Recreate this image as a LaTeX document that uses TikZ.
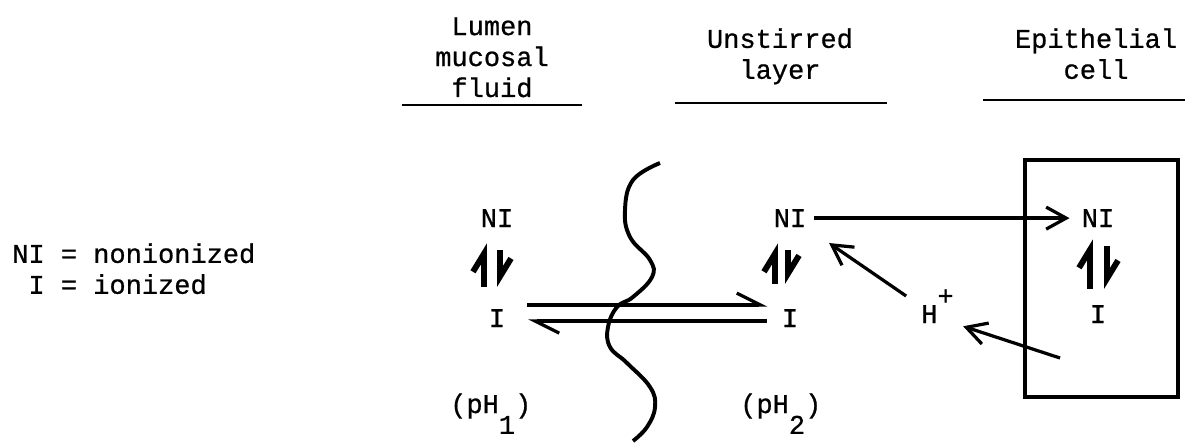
\documentclass[tikz,border=0pt]{standalone}
\usepackage{fontspec}
\newfontfamily\typer[FakeBold=0.7]{Liberation Mono}
\usetikzlibrary{arrows.meta,positioning}
\tikzstyle{lbl}=[inner sep=0pt,font=\typer\fontsize{19.2}{22}\selectfont]
\tikzstyle{head}=[lbl,align=center,anchor=north]
\tikzstyle{uline}=[line width=1.8pt]
\tikzstyle{arr}=[-{Straight Barb[length=0.5cm,width=0.55cm]},line width=2.3pt]
\tikzstyle{harp}=[-{Straight Barb[harpoon,length=0.6cm,width=0.6cm]},line width=2.3pt]
\tikzstyle{eq}=[-{Straight Barb[harpoon,length=0.45cm,width=0.55cm]},line width=4.2pt]
\tikzstyle{wall}=[line width=2.8pt]

\begin{document}
\begin{tikzpicture}[x=0.025cm,y=-0.025cm]
\useasboundingbox (0,0) rectangle (1185,443);
% headings
\node[head] (hLumen) at (492,17) {Lumen\\mucosal\\fluid};
\node[head] (hLayer) at (780,28) {Unstirred\\layer};
\node[head] (hCell) at (1096,28) {Epithelial\\cell};
\draw[uline] (402,105) -- (582,105);
\draw[uline] (675,103) -- (887,103);
\draw[uline] (983,100) -- (1185,100);
% key
\node[lbl,align=left,anchor=north west] (key) at (12,243) {NI = nonionized\\\phantom{N}I = ionized};
% species
\node[lbl,anchor=base] (NIa) at (497,227) {NI};
\node[lbl,anchor=base] (Ia) at (497,327) {I};
\node[lbl,anchor=base] (NIb) at (790,227) {NI};
\node[lbl,anchor=base] (Ib) at (790,327) {I};
\node[lbl,anchor=base] (NIc) at (1098,227) {NI};
\node[lbl,anchor=base] (Ic) at (1098,323) {I};
\node[lbl,anchor=base west] (Hp) at (921,323) {H\raisebox{0.45cm}{+}};
\node[lbl,anchor=base west] (pHa) at (450,413) {(pH\raisebox{-0.52cm}{1})};
\node[lbl,anchor=base west] (pHb) at (740,413) {(pH\raisebox{-0.52cm}{2})};
% cell and membrane
\draw[wall] (1025,160) rectangle (1178,397);
\draw[wall] plot[smooth,tension=0.7] coordinates {(660,163) (633,180) (625,210) (630,237) (650,260) (652,277) (633,297) (617,307) (608,327) (610,347) (627,363) (650,387) (655,407) (647,427) (633,441)};
\coordinate (eqb) at (829,243);
\coordinate (cellsrc) at (1060,358);
% equilibria
\draw[eq] ([shift={(-13,-22)}]Ia.north) -- ([shift={(-13,16)}]NIa.south);
\draw[eq] ([shift={(3,23)}]NIa.south) -- ([shift={(3,-22)}]Ia.north);
\draw[eq] ([shift={(-15,-25)}]Ib.north) -- ([shift={(-15,16)}]NIb.south);
\draw[eq] ([shift={(-2,23)}]NIb.south) -- ([shift={(-2,-25)}]Ib.north);
\draw[eq] ([shift={(-8,-16)}]Ic.north) -- ([shift={(-8,12)}]NIc.south);
\draw[eq] ([shift={(9,19)}]NIc.south) -- ([shift={(9,-16)}]Ic.north);
% transport
\draw[harp] ([shift={(22,-13)}]Ia.east) -- ([shift={(-14,-13)}]Ib.west);
\draw[harp] ([shift={(-15,3)}]Ib.west) -- ([shift={(23,3)}]Ia.east);
\draw[arr,shorten <=0.2cm,shorten >=0.3cm] (NIb) -- (NIc);
\draw[arr,shorten <=0.45cm] (Hp.west) -- (eqb);
\draw[arr,shorten >=0.24cm] (cellsrc) -- (Hp.south east);
\end{tikzpicture}
\end{document}
